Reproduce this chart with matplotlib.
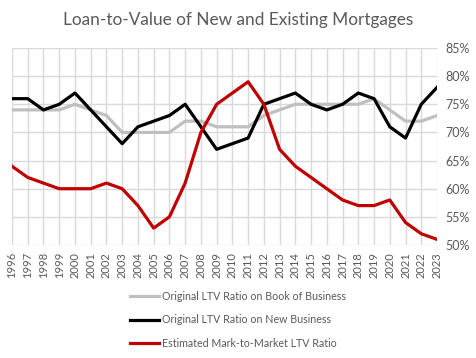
import matplotlib
matplotlib.use("Agg")
import matplotlib.pyplot as plt
from matplotlib.ticker import FuncFormatter

years = list(range(1996, 2024))
book = [74, 74, 74, 74, 75, 74, 73, 70, 70, 70, 70, 72, 72, 71, 71, 71, 73, 74, 75, 75, 75, 75, 75, 76, 74, 72, 72, 73]
new = [76, 76, 74, 75, 77, 74, 71, 68, 71, 72, 73, 75, 71, 67, 68, 69, 75, 76, 77, 75, 74, 75, 77, 76, 71, 69, 75, 78]
mtm = [64, 62, 61, 60, 60, 60, 61, 60, 57, 53, 55, 61, 70, 75, 77, 79, 75, 67, 64, 62, 60, 58, 57, 57, 58, 54, 52, 51]
labels = ["Original LTV Ratio on Book of Business",
          "Original LTV Ratio on New Business",
          "Estimated Mark-to-Market LTV Ratio"]
title = "Loan-to-Value of New and Existing Mortgages"

plt.rcParams['font.family'] = ['Lato', 'DejaVu Sans']
txt = '#595959'

fig = plt.figure(figsize=(4.76, 3.58), dpi=100)
ax = fig.add_axes([12/476, 1-245/358, (437-12)/476, (245-48)/358])

ax.plot(years, book, color='#bfbfbf', lw=2.3, label=labels[0], solid_joinstyle='round')
ax.plot(years, new, color='#000000', lw=2.3, label=labels[1], solid_joinstyle='round')
ax.plot(years, mtm, color='#c00000', lw=2.3, label=labels[2], solid_joinstyle='round')

ax.set_xlim(1996, 2023)
ax.set_ylim(50, 85)
ax.set_xticks(years)
ax.set_xticklabels([str(y) for y in years], rotation=90, fontsize=8, color=txt)
ax.set_yticks(range(50, 90, 5))
ax.yaxis.set_major_formatter(FuncFormatter(lambda v, p: f"{int(v)}%"))
ax.yaxis.tick_right()
ax.tick_params(axis='y', labelsize=9, colors=txt, length=0, pad=6)
ax.tick_params(axis='x', length=0, pad=5)
ax.grid(True, color='#d9d9d9', lw=1)
ax.set_axisbelow(True)
for s in ax.spines.values():
    s.set_visible(False)

fig.text(0.5, 1-20/358, title, ha='center', va='center', fontsize=12.4, color=txt)

leg = fig.legend(loc='upper left', bbox_to_anchor=(130/476, 1-291/358), frameon=False,
                 fontsize=7.7, handlelength=2.7, handletextpad=0.25, labelspacing=1.15,
                 borderpad=0, borderaxespad=0)
for t in leg.get_texts():
    t.set_color(txt)

fig.savefig("out.png", dpi=100)
